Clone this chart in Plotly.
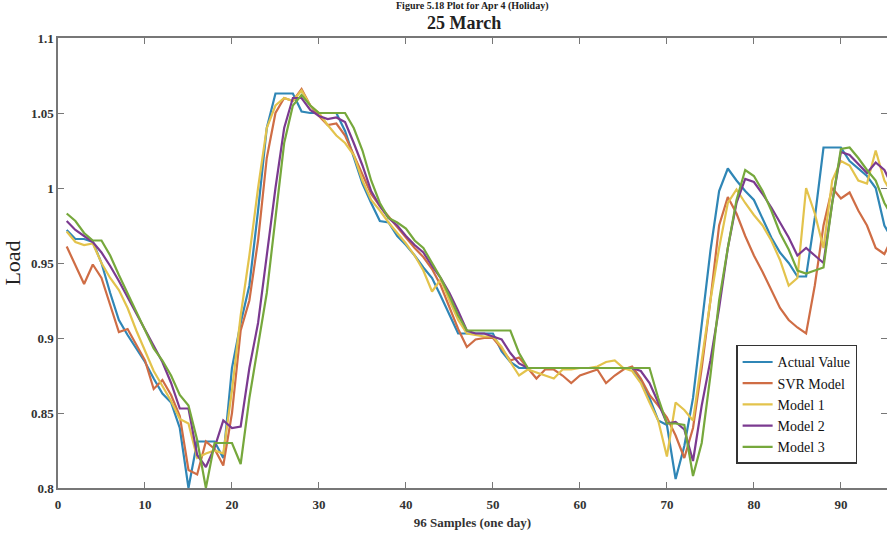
import plotly.graph_objects as go

samples = list(range(1, 97))

actual = [0.972, 0.966, 0.966, 0.964, 0.950, 0.930, 0.912, 0.902, 0.893, 0.884,
          0.873, 0.863, 0.857, 0.840, 0.800, 0.831, 0.831, 0.831, 0.820, 0.880,
          0.910, 0.935, 0.985, 1.040, 1.063, 1.063, 1.063, 1.051, 1.050, 1.050,
          1.050, 1.050, 1.038, 1.020, 1.003, 0.990, 0.978, 0.977, 0.968, 0.962,
          0.955, 0.947, 0.940, 0.928, 0.915, 0.903, 0.903, 0.903, 0.903, 0.903,
          0.891, 0.884, 0.880, 0.880, 0.880, 0.880, 0.880, 0.880, 0.880, 0.880,
          0.880, 0.880, 0.880, 0.880, 0.880, 0.880, 0.872, 0.860, 0.845, 0.842,
          0.806, 0.828, 0.860, 0.910, 0.958, 0.998, 1.013, 1.005, 0.998, 0.992,
          0.980, 0.967, 0.957, 0.950, 0.941, 0.941, 0.980, 1.027, 1.027, 1.027,
          1.018, 1.013, 1.008, 1.000, 0.975, 0.965]

svr = [0.961, 0.948, 0.936, 0.949, 0.940, 0.922, 0.904, 0.906, 0.895, 0.885,
       0.866, 0.872, 0.862, 0.848, 0.812, 0.809, 0.831, 0.826, 0.815, 0.850,
       0.905, 0.925, 0.965, 1.020, 1.050, 1.060, 1.058, 1.066, 1.055, 1.048,
       1.042, 1.043, 1.035, 1.022, 1.008, 0.996, 0.988, 0.981, 0.974, 0.967,
       0.960, 0.954, 0.946, 0.935, 0.920, 0.906, 0.894, 0.899, 0.900, 0.900,
       0.893, 0.885, 0.887, 0.880, 0.873, 0.879, 0.879, 0.875, 0.870, 0.875,
       0.877, 0.879, 0.870, 0.875, 0.879, 0.881, 0.873, 0.862, 0.855, 0.847,
       0.835, 0.820, 0.840, 0.880, 0.925, 0.975, 0.994, 0.983, 0.968, 0.955,
       0.944, 0.932, 0.920, 0.912, 0.907, 0.903, 0.935, 0.975, 1.000, 0.993,
       0.997, 0.985, 0.975, 0.960, 0.956, 0.968]

model1 = [0.971, 0.964, 0.962, 0.963, 0.950, 0.940, 0.932, 0.920, 0.905, 0.892,
          0.878, 0.868, 0.858, 0.846, 0.843, 0.820, 0.823, 0.825, 0.823, 0.865,
          0.915, 0.955, 1.000, 1.040, 1.055, 1.060, 1.058, 1.065, 1.055, 1.050,
          1.042, 1.035, 1.030, 1.022, 1.005, 0.992, 0.985, 0.977, 0.970, 0.963,
          0.955, 0.945, 0.931, 0.939, 0.925, 0.912, 0.903, 0.902, 0.901, 0.901,
          0.894, 0.884, 0.875, 0.879, 0.877, 0.875, 0.873, 0.879, 0.879, 0.880,
          0.880, 0.881, 0.884, 0.885, 0.880, 0.878, 0.870, 0.857, 0.845, 0.821,
          0.857, 0.852, 0.845, 0.885, 0.925, 0.960, 0.990, 0.999, 0.990, 0.982,
          0.975, 0.965, 0.952, 0.935, 0.940, 1.000, 0.983, 0.960, 1.005, 1.018,
          1.015, 1.005, 1.003, 1.025, 1.005, 0.995]

model2 = [0.978, 0.972, 0.968, 0.964, 0.957, 0.948, 0.938, 0.927, 0.916, 0.905,
          0.895, 0.884, 0.870, 0.853, 0.853, 0.822, 0.814, 0.827, 0.845, 0.840,
          0.841, 0.880, 0.910, 0.955, 1.000, 1.040, 1.060, 1.060, 1.052, 1.048,
          1.046, 1.047, 1.044, 1.030, 1.015, 0.998, 0.988, 0.980, 0.975, 0.968,
          0.962, 0.957, 0.948, 0.940, 0.930, 0.918, 0.905, 0.903, 0.903, 0.901,
          0.899, 0.890, 0.883, 0.880, 0.880, 0.880, 0.880, 0.880, 0.880, 0.880,
          0.880, 0.880, 0.880, 0.880, 0.880, 0.880, 0.878, 0.870, 0.857, 0.843,
          0.844, 0.839, 0.818, 0.855, 0.885, 0.920, 0.960, 0.990, 1.006, 1.004,
          0.996, 0.987, 0.977, 0.967, 0.955, 0.960, 0.955, 0.950, 0.990, 1.024,
          1.022, 1.016, 1.010, 1.017, 1.012, 1.000]

model3 = [0.983, 0.978, 0.970, 0.965, 0.965, 0.955, 0.942, 0.930, 0.918, 0.905,
          0.893, 0.885, 0.875, 0.862, 0.855, 0.832, 0.800, 0.830, 0.830, 0.830,
          0.816, 0.860, 0.895, 0.930, 0.980, 1.030, 1.055, 1.062, 1.055, 1.050,
          1.050, 1.050, 1.050, 1.040, 1.025, 1.005, 0.990, 0.980, 0.977, 0.973,
          0.965, 0.960, 0.950, 0.940, 0.928, 0.915, 0.905, 0.905, 0.905, 0.905,
          0.905, 0.905, 0.890, 0.880, 0.880, 0.880, 0.880, 0.880, 0.880, 0.880,
          0.880, 0.880, 0.880, 0.880, 0.880, 0.880, 0.880, 0.880, 0.860, 0.843,
          0.843, 0.842, 0.808, 0.830, 0.875, 0.925, 0.960, 0.992, 1.012, 1.008,
          0.998, 0.985, 0.970, 0.959, 0.945, 0.943, 0.945, 0.947, 0.990, 1.026,
          1.027, 1.020, 1.012, 1.005, 0.990, 0.980]

series_names = ["Actual Value", "SVR Model", "Model 1", "Model 2", "Model 3"]
series_values = [actual, svr, model1, model2, model3]
colors = ["#2f86b6", "#cf6d45", "#e3c34c", "#7b3a90", "#76a83c"]

y_tick_vals = [0.8, 0.85, 0.9, 0.95, 1.0, 1.05, 1.1]
y_tick_text = ["0.8", "0.85", "0.9", "0.95", "1", "1.05", "1.1"]
x_tick_vals = [0, 10, 20, 30, 40, 50, 60, 70, 80, 90]

serif = "Liberation Serif"

fig = go.Figure()
for name, vals, col in zip(series_names, series_values, colors):
    fig.add_trace(go.Scatter(x=samples, y=vals, mode="lines", name=name,
                             line=dict(color=col, width=2.2)))

fig.update_layout(
    width=887, height=535,
    margin=dict(l=58, r=0, t=38, b=47, autoexpand=False),
    paper_bgcolor="white", plot_bgcolor="white",
    showlegend=True,
    legend=dict(x=0.818, y=0.318, xanchor="left", yanchor="top",
                bgcolor="white", bordercolor="#333333", borderwidth=1.5,
                font=dict(family=serif, size=14, color="#111111"),
                tracegroupgap=0, itemwidth=30),
    font=dict(family=serif, color="#222222"),
)

axis_common = dict(showgrid=False, zeroline=False, showline=True,
                   linecolor="#777777", linewidth=1.5, mirror="ticks",
                   ticks="inside", ticklen=6, tickcolor="#777777",
                   automargin=False,
                   tickfont=dict(family=serif, size=13, color="#333333"))

fig.update_xaxes(range=[0, 95.3], tickvals=x_tick_vals,
                 ticktext=["<b>%d</b>" % v for v in x_tick_vals],
                 ticklabelstandoff=4,
                 title=dict(text="<b>96 Samples (one day)</b>",
                            font=dict(family=serif, size=13, color="#333333"),
                            standoff=7),
                 **axis_common)
fig.update_yaxes(range=[0.8, 1.1], tickvals=y_tick_vals,
                 ticktext=["<b>%s</b>" % t for t in y_tick_text],
                 title=dict(text="Load", font=dict(family=serif, size=22, color="#222222"),
                            standoff=6),
                 **axis_common)

fig.add_annotation(text="<b>25 March</b>", xref="paper", yref="paper",
                   x=0.49, y=1.0, yanchor="middle", yshift=15, showarrow=False,
                   borderpad=0,
                   font=dict(family=serif, size=18, color="#222222"))
fig.add_annotation(text="<b>Figure 5.18 Plot for Apr 4 (Holiday)</b>", xref="paper", yref="paper",
                   x=0.5, y=1.0, yanchor="middle", yshift=32, showarrow=False,
                   borderpad=0,
                   font=dict(family=serif, size=10, color="#222222"))

fig.write_html("out.html", config={"displayModeBar": False},
               post_script="document.body.style.margin='0';")
